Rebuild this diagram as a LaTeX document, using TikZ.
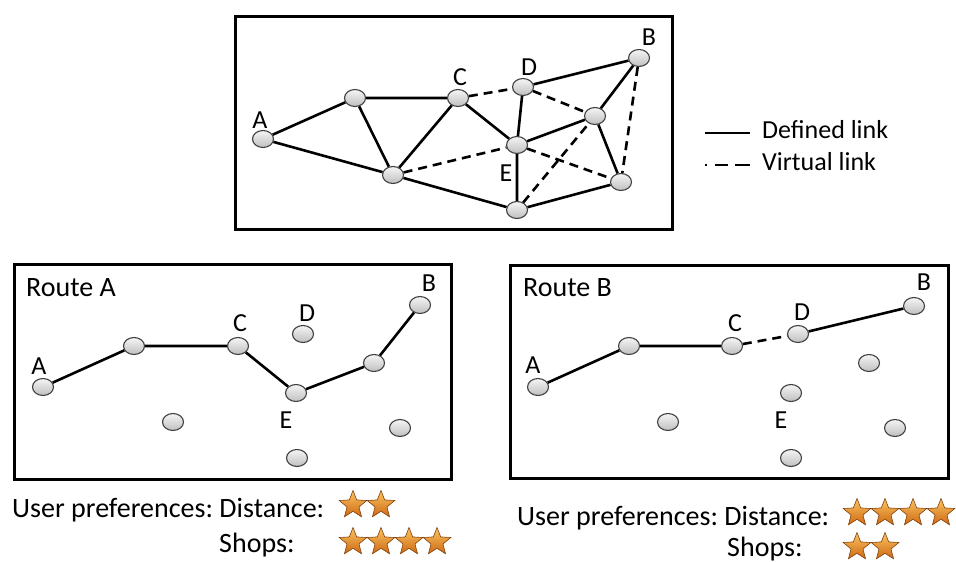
\documentclass[tikz,border=0pt]{standalone}
\usepackage{fontspec}
\setmainfont{Carlito}
\usetikzlibrary{shapes.geometric}
\definecolor{startop}{RGB}{252,196,96}
\definecolor{starbot}{RGB}{205,105,20}
\definecolor{staredge}{RGB}{130,65,10}
\begin{document}
\begin{tikzpicture}[x=1pt,y=-1pt,
  pt/.style={ellipse,minimum width=21pt,minimum height=17pt,inner sep=0pt,draw=black!75,line width=1.1pt,top color=gray!8,bottom color=gray!50},
  lnk/.style={line width=2.6pt,black},
  vlnk/.style={line width=2.6pt,black,dash pattern=on 9pt off 6pt},
  frame/.style={draw=black,line width=3pt},
  lbl/.style={font=\fontsize{26}{30}\selectfont,inner sep=0pt},
  txt/.style={font=\fontsize{28}{32}\selectfont,inner sep=0pt},
  stx/.style={star,star points=5,star point ratio=2.3,minimum size=29pt,inner sep=0pt,draw=staredge,line width=0.6pt,top color=startop,bottom color=starbot}]
\useasboundingbox (0,0) rectangle (956,562);
% ---------------- top network ----------------
\node[frame,minimum width=437pt,minimum height=213pt,anchor=north west] (topbox) at (234,15) {};
\node[pt] (tA) at (263,139) {};
\node[pt] (t1) at (355,98) {};
\node[pt] (tC) at (458,98) {};
\node[pt] (tD) at (523,87) {};
\node[pt] (tB) at (639,58) {};
\node[pt] (t2) at (595,116) {};
\node[pt] (tE) at (517,145) {};
\node[pt] (t3) at (393,175) {};
\node[pt] (t4) at (621,182) {};
\node[pt] (t5) at (517,210) {};
\node[lbl] (ltA) at (260,120) {A};
\node[lbl] (ltC) at (460,77) {C};
\node[lbl] (ltD) at (529,67) {D};
\node[lbl] (ltB) at (649,37) {B};
\node[lbl] (ltE) at (506,173) {E};
\draw[lnk] (tA)--(t1) (tA)--(t3) (t1)--(tC) (t1)--(t3) (t3)--(tC) (tC)--(tE)
  (tD)--(tB) (tD)--(tE) (tE)--(t2) (t2)--(tB) (t2)--(t4) (t3)--(t5) (tE)--(t5) (t5)--(t4);
\draw[vlnk] (tC)--(tD) (tD)--(t2) (t3)--(tE) (tE)--(t4) (t5)--(t2) (tB)--(t4);
% legend
\coordinate (s1) at (705,133); \coordinate (s2) at (750,133);
\coordinate (d1) at (705,165); \coordinate (d2) at (750,165);
\draw[lnk] (s1)--(s2);
\draw[line width=2.6pt,dash pattern=on 2pt off 8pt on 13pt off 7pt on 15pt] (d1)--(d2);
\node[lbl,anchor=base west] (leg1) at (762,138) {Defined link};
\node[lbl,anchor=base west] (leg2) at (762,170) {Virtual link};
% ---------------- Route A ----------------
\node[frame,minimum width=437pt,minimum height=215pt,anchor=north west] (boxA) at (13,263) {};
\node[txt,anchor=base west] (ttlA) at (26,296) {Route A};
\node[pt] (lA) at (43,387) {};
\node[pt] (l1) at (134,346) {};
\node[pt] (lC) at (238,346) {};
\node[pt] (lD) at (303,334) {};
\node[pt] (lB) at (420,305) {};
\node[pt] (l2) at (374,363) {};
\node[pt] (lE) at (296,393) {};
\node[pt] (l3) at (173,422) {};
\node[pt] (l4) at (400,428) {};
\node[pt] (l5) at (297,458) {};
\node[lbl] (llA) at (39,366) {A};
\node[lbl] (llC) at (240,323) {C};
\node[lbl] (llD) at (307,313) {D};
\node[lbl] (llB) at (429,283) {B};
\node[lbl] (llE) at (286,420) {E};
\draw[lnk] (lA)--(l1) (l1)--(lC) (lC)--(lE) (lE)--(l2) (l2)--(lB);
\node[txt,anchor=base west] (prefA) at (12,517) {User preferences:\hspace{-2pt} Distance:};
\node[txt,anchor=base west] (shopA) at (219,552) {Shops:};
\node[stx] (sa1) at (353,505) {};
\node[stx] (sa2) at (381,505) {};
\node[stx] (sb1) at (353,542) {};
\node[stx] (sb2) at (381,542) {};
\node[stx] (sb3) at (409,542) {};
\node[stx] (sb4) at (437,542) {};
% ---------------- Route B ----------------
\node[frame,minimum width=438pt,minimum height=213pt,anchor=north west] (boxB) at (509,264) {};
\node[txt,anchor=base west] (ttlB) at (523,296) {Route B};
\node[pt] (rA) at (538,387) {};
\node[pt] (r1) at (629,346) {};
\node[pt] (rC) at (732,346) {};
\node[pt] (rD) at (798,334) {};
\node[pt] (rB) at (914,306) {};
\node[pt] (r2) at (869,363) {};
\node[pt] (rE) at (791,393) {};
\node[pt] (r3) at (668,422) {};
\node[pt] (r4) at (895,428) {};
\node[pt] (r5) at (791,458) {};
\node[lbl] (lrA) at (533,365) {A};
\node[lbl] (lrC) at (735,323) {C};
\node[lbl] (lrD) at (802,312) {D};
\node[lbl] (lrB) at (924,282) {B};
\node[lbl] (lrE) at (781,420) {E};
\draw[lnk] (rA)--(r1) (r1)--(rC) (rD)--(rB);
\draw[vlnk] (rC)--(rD);
\node[txt,anchor=base west] (prefB) at (517,525) {User preferences:\hspace{-2pt} Distance:};
\node[txt,anchor=base west] (shopB) at (727,556) {Shops:};
\node[stx] (sc1) at (857,513) {};
\node[stx] (sc2) at (885,513) {};
\node[stx] (sc3) at (913,513) {};
\node[stx] (sc4) at (941,513) {};
\node[stx] (sd1) at (857,547) {};
\node[stx] (sd2) at (885,547) {};
\end{tikzpicture}
\end{document}
